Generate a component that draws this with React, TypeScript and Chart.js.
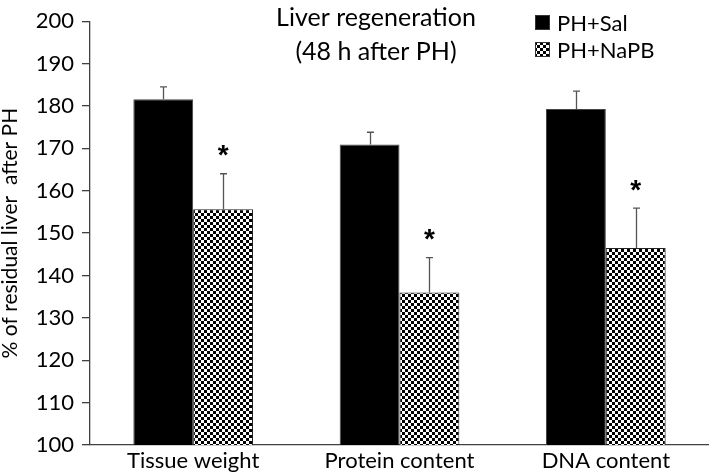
import React, { useEffect, useRef } from "react";
import { Chart, registerables } from "chart.js";

Chart.register(...registerables);

const categories = ["Tissue weight", "Protein content", "DNA content"];
const seriesLabels = ["PH+Sal", "PH+NaPB"];
const salValues = [181.6, 170.9, 179.3];
const salErrors = [2.9, 2.9, 4.2];
const napbValues = [155.6, 136.0, 146.5];
const napbErrors = [8.4, 8.2, 9.4];
const napbSignificant = [true, true, true];
const titleLines = ["Liver regeneration", "(48 h after PH)"];
const yAxisTitle = "% of residual liver  after PH";
const yMin = 100;
const yMax = 200;
const yStep = 10;

const FONT = "Lato, 'Open Sans', sans-serif";

function makeChecker(): CanvasPattern | string {
  const c = document.createElement("canvas");
  c.width = 6;
  c.height = 6;
  const g = c.getContext("2d");
  if (!g) return "#777";
  g.fillStyle = "#ffffff";
  g.fillRect(0, 0, 6, 6);
  g.fillStyle = "#000000";
  g.fillRect(0, 0, 3, 3);
  g.fillRect(3, 3, 3, 3);
  const ctx = document.createElement("canvas").getContext("2d");
  const p = ctx ? ctx.createPattern(c, "repeat") : null;
  return p || "#777";
}

export default function App() {
  const ref = useRef<HTMLCanvasElement | null>(null);

  useEffect(() => {
    if (!ref.current) return;
    const checker = makeChecker();
    const errors = [salErrors, napbErrors];

    const overlay = {
      id: "overlay",
      afterDatasetsDraw(chart: any) {
        const ctx = chart.ctx;
        const yScale = chart.scales.y;
        ctx.save();
        ctx.strokeStyle = "#555555";
        ctx.lineWidth = 1.3;
        chart.data.datasets.forEach((ds: any, i: number) => {
          const meta = chart.getDatasetMeta(i);
          meta.data.forEach((bar: any, j: number) => {
            const v = ds.data[j];
            const top = yScale.getPixelForValue(v + errors[i][j]);
            const x = Math.round(bar.x) + 0.5;
            ctx.beginPath();
            ctx.moveTo(x, bar.y);
            ctx.lineTo(x, top);
            ctx.moveTo(x - 3.5, top);
            ctx.lineTo(x + 3.5, top);
            ctx.stroke();
            if (i === 1 && napbSignificant[j]) {
              ctx.fillStyle = "#000";
              ctx.font = `bold 28px 'Liberation Sans', sans-serif`;
              ctx.textAlign = "center";
              ctx.textBaseline = "alphabetic";
              const m = ctx.measureText("*");
              const h = m.actualBoundingBoxAscent - m.actualBoundingBoxDescent;
              const cy = top - 15;
              ctx.fillText("*", bar.x, cy + m.actualBoundingBoxAscent - h / 2);
            }
          });
        });
        ctx.restore();
      },
      afterDraw(chart: any) {
        const ctx = chart.ctx;
        const area = chart.chartArea;
        ctx.save();
        ctx.fillStyle = "#000";
        ctx.font = `25px ${FONT}`;
        ctx.textAlign = "center";
        ctx.textBaseline = "middle";
        const cx = area.left + (area.right - area.left) * 0.462;
        ctx.fillText(titleLines[0], cx, 18);
        ctx.fillText(titleLines[1], cx, 52);
        const lx = 535;
        const rows = [22.5, 49.5];
        const fills = ["#000000", checker];
        ctx.textAlign = "left";
        ctx.font = `22px ${FONT}`;
        rows.forEach((ry, k) => {
          ctx.fillStyle = fills[k] as any;
          ctx.fillRect(lx, ry - 7.5, 15, 15);
          ctx.strokeStyle = "#333";
          ctx.lineWidth = 1;
          ctx.strokeRect(lx + 0.5, ry - 7, 14, 14);
          ctx.fillStyle = "#000";
          ctx.fillText(seriesLabels[k], 557, ry + 1);
        });
        ctx.restore();
      },
    };

    const chart = new Chart(ref.current, {
      type: "bar",
      data: {
        labels: categories,
        datasets: [
          {
            label: seriesLabels[0],
            data: salValues,
            backgroundColor: "#000000",
            borderColor: "#444444",
            borderWidth: 1,
            barPercentage: 1,
            categoryPercentage: 0.58,
          },
          {
            label: seriesLabels[1],
            data: napbValues,
            backgroundColor: checker as any,
            borderColor: "#222222",
            borderWidth: 1,
            barPercentage: 1,
            categoryPercentage: 0.58,
          },
        ],
      },
      options: {
        responsive: false,
        animation: false,
        layout: { padding: { top: 10, right: 0, left: 0, bottom: 0 } },
        plugins: {
          legend: { display: false },
          tooltip: { enabled: false },
          title: { display: false },
        },
        scales: {
          x: {
            afterFit: (s: any) => {
              s.height = 31;
            },
            grid: { display: false, drawTicks: false, tickLength: 0 },
            border: { display: true, color: "#404040", width: 1.3 },
            ticks: {
              color: "#000",
              font: { family: FONT, size: 22, lineHeight: 1 },
              padding: 5,
              maxRotation: 0,
            },
          },
          y: {
            min: yMin,
            max: yMax,
            afterFit: (s: any) => {
              s.width = 90;
            },
            grid: {
              drawOnChartArea: false,
              drawTicks: true,
              tickLength: 8,
              color: "#404040",
              lineWidth: 1.3,
            },
            border: { display: true, color: "#404040", width: 1.3 },
            ticks: {
              stepSize: yStep,
              color: "#000",
              font: { family: FONT, size: 22 },
              padding: 8,
            },
            title: {
              display: true,
              text: yAxisTitle,
              color: "#000",
              font: { family: FONT, size: 21, lineHeight: 1 },
              padding: { top: 0, bottom: 0 },
            },
          },
        },
      },
      plugins: [overlay],
    });
    return () => chart.destroy();
  }, []);

  return (
    <div style={{ position: "fixed", left: 0, top: 0, width: 709, height: 476, background: "#fff" }}>
      <canvas ref={ref} width={709} height={476} style={{ display: "block" }} />
    </div>
  );
}
